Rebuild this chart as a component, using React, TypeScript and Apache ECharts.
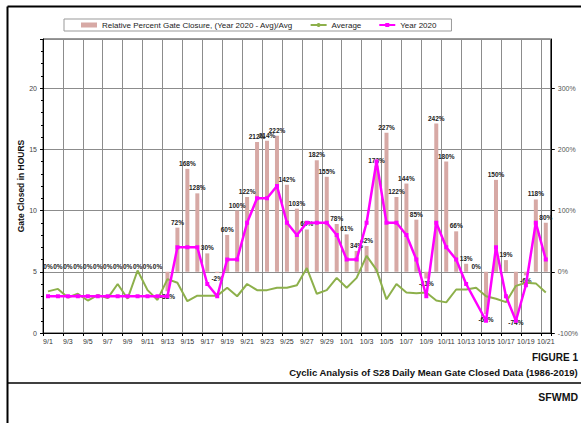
import React, { useEffect, useRef } from "react";
import * as echarts from "echarts";

const categories = [
  "9/1", "9/2", "9/3", "9/4", "9/5", "9/6", "9/7", "9/8", "9/9", "9/10",
  "9/11", "9/12", "9/13", "9/14", "9/15", "9/16", "9/17", "9/18", "9/19", "9/20",
  "9/21", "9/22", "9/23", "9/24", "9/25", "9/26", "9/27", "9/28", "9/29", "9/30",
  "10/1", "10/2", "10/3", "10/4", "10/5", "10/6", "10/7", "10/8", "10/9", "10/10",
  "10/11", "10/12", "10/13", "10/14", "10/15", "10/16", "10/17", "10/18", "10/19", "10/20",
  "10/21",
];

// Relative percent gate closure (%), right axis
const relativePercent = [
  0, 0, 0, 0, 0, 0, 0, 0, 0, 0, 0, 0,
  -32, 72, 168, 128, 30, -2, 60, 100, 122, 212, 214, 222, 142, 103, 69, 182, 155, 78,
  61, 34, 42, 173, 227, 122, 144, 85, -11, 242, 180, 66, 13, 0, -69, 150, 19, -74, -6, 118, 80,
];

// Average gate closed hours (1986-2019), left axis
const average = [
  3.4, 3.6, 2.9, 3.2, 2.65, 3.1, 2.85, 4.0, 2.8, 5.1, 3.5, 2.7,
  4.4, 4.1, 2.6, 3.05, 3.05, 3.05, 3.7, 3.0, 4.0, 3.5, 3.5, 3.7, 3.7, 3.9, 5.3, 3.2, 3.5, 4.5,
  3.7, 4.5, 6.3, 5.15, 2.75, 4.0, 3.3, 3.25, 3.3, 2.65, 2.5, 3.55, 3.55, 3.7, 3.0, 2.8, 2.52, 3.85, 4.1, 4.05, 3.3,
];

// Year 2020 gate closed hours, left axis
const year2020 = [
  3, 3, 3, 3, 3, 3, 3, 3, 3, 3, 3, 3,
  3, 7, 7, 7, 4, 3, 6, 6, 9, 11, 11, 12, 9, 8, 9, 9, 9, 8,
  6, 6, 9, 14, 9, 9, 8, 6, 3, 9, 7, 6, 4, null, 1, 7, 3, 1, 3.9, 9, 6,
];

const FONT = "Liberation Sans, Arial, sans-serif";

export default function App() {
  const ref = useRef<HTMLDivElement>(null);

  useEffect(() => {
    const chart = echarts.init(ref.current as HTMLDivElement, null, { renderer: "svg" });
    const barData = relativePercent.map((v) => ({
      value: v,
      label: { position: v < 0 ? "bottom" : "top" },
    }));

    chart.setOption({
      animation: false,
      backgroundColor: "#ffffff",
      textStyle: { fontFamily: FONT },
      legend: {
        left: 64,
        top: 19,
        padding: [2, 15, 2, 17],
        borderColor: "#999",
        borderWidth: 1,
        itemWidth: 16,
        itemHeight: 5,
        itemGap: 17,
        textStyle: { fontSize: 8, color: "#222", fontFamily: FONT },
        data: [
          { name: "Relative Percent Gate Closure, (Year 2020 - Avg)/Avg", icon: "rect" },
          { name: "Average" },
          { name: "Year 2020" },
        ],
      },
      grid: {
        left: 43,
        right: 25,
        top: 39,
        bottom: 90,
        show: true,
        borderColor: "#333",
        borderWidth: 1,
      },
      xAxis: {
        type: "category",
        data: categories,
        boundaryGap: true,
        axisLine: { lineStyle: { color: "#000", width: 1 } },
        axisTick: { show: true, interval: 1, length: 3, lineStyle: { color: "#000" } },
        axisLabel: { interval: 1, fontSize: 7, color: "#333", fontFamily: FONT, margin: 5 },
        splitLine: { show: true, interval: 1, lineStyle: { color: "#8c8c8c", width: 1 } },
      },
      yAxis: [
        {
          type: "value",
          position: "left",
          min: 0,
          max: 24,
          interval: 5,
          name: "Gate Closed in HOURS",
          nameLocation: "middle",
          nameGap: 18,
          nameMoveOverlap: false,
          nameRotate: 90,
          nameTextStyle: { fontSize: 8.5, fontWeight: "bold", color: "#111", fontFamily: FONT },
          axisLine: { show: true, lineStyle: { color: "#000" } },
          axisTick: { show: true, length: 3, lineStyle: { color: "#000" } },
          minorTick: { show: true, splitNumber: 5, length: 2, lineStyle: { color: "#000" } },
          axisLabel: { fontSize: 7, color: "#444", showMaxLabel: false, margin: 6, fontFamily: FONT },
          splitLine: { show: true, lineStyle: { color: "#8c8c8c", width: 1 } },
        },
        {
          type: "value",
          position: "right",
          min: -100,
          max: 380,
          interval: 100,
          axisLine: { show: true, lineStyle: { color: "#000" } },
          axisTick: { show: true, length: 4, lineStyle: { color: "#000" } },
          axisLabel: {
            formatter: "{value}%",
            fontSize: 7,
            color: "#555",
            showMaxLabel: false,
            margin: 7,
            fontFamily: FONT,
          },
          splitLine: { show: false },
        },
      ],
      series: [
        {
          name: "Relative Percent Gate Closure, (Year 2020 - Avg)/Avg",
          type: "bar",
          yAxisIndex: 1,
          barWidth: 4,
          itemStyle: { color: "#D7A9A5" },
          label: {
            show: true,
            formatter: "{c}%",
            fontSize: 6.5,
            fontWeight: "bold",
            color: "#222",
            distance: 2,
            fontFamily: FONT,
          },
          data: barData,
          z: 1,
        },
        {
          name: "Average",
          type: "line",
          yAxisIndex: 0,
          data: average,
          symbol: "none",
          showSymbol: false,
          lineStyle: { color: "#8DB04B", width: 2 },
          itemStyle: { color: "#8DB04B" },
          z: 2,
        },
        {
          name: "Year 2020",
          type: "line",
          yAxisIndex: 0,
          data: year2020,
          connectNulls: true,
          symbol: "rect",
          symbolSize: 4,
          lineStyle: { color: "#FF00FF", width: 2.5 },
          itemStyle: { color: "#FF00FF" },
          z: 3,
        },
      ],
      graphic: [
        { type: "line", shape: { x1: 7.5, y1: 6.5, x2: 581, y2: 6.5 }, style: { stroke: "#000", lineWidth: 2 } },
        { type: "line", shape: { x1: 7.5, y1: 6.5, x2: 7.5, y2: 423 }, style: { stroke: "#000", lineWidth: 2 } },
        { type: "line", shape: { x1: 7.5, y1: 383, x2: 581, y2: 383 }, style: { stroke: "#000", lineWidth: 1.5 } },
        {
          type: "text",
          right: 3,
          top: 352,
          style: { text: "FIGURE 1", font: `bold 10px ${FONT}`, fill: "#111" },
        },
        {
          type: "text",
          right: 3,
          top: 367,
          style: {
            text: "Cyclic Analysis of S28 Daily Mean Gate Closed Data (1986-2019)",
            font: `bold 9.5px ${FONT}`,
            fill: "#111",
          },
        },
        {
          type: "text",
          right: 3,
          top: 391,
          style: { text: "SFWMD", font: `bold 10.5px ${FONT}`, fill: "#111" },
        },
      ],
    });

    return () => chart.dispose();
  }, []);

  return (
    <div
      ref={ref}
      style={{ position: "absolute", left: 0, top: 0, width: 581, height: 423, background: "#fff" }}
    />
  );
}
